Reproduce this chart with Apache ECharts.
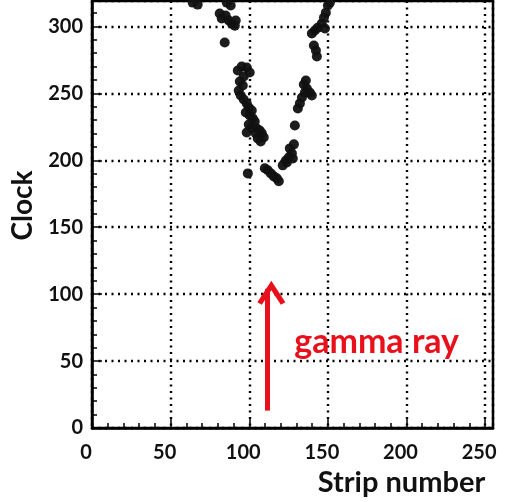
<!DOCTYPE html>
<html>
<head>
<meta charset="utf-8">
<script src="https://cdn.jsdelivr.net/npm/echarts@6/dist/echarts.min.js"></script>
<style>
  html, body { margin: 0; padding: 0; background: #fff; }
  #chart { width: 516px; height: 502px; }
</style>
</head>
<body>
<div id="chart"></div>
<script>
// strip number of each hit
const stripNo = [
  64.0, 67.2, 85.7, 88.2, 81.2, 82.5, 85.0, 87.0, 88.9, 90.8, 91.4, 84.4,
  92.7, 95.2, 98.4, 100.3, 96.5, 94.0, 95.9, 93.3, 94.6, 96.5, 98.4, 99.7,
  101.6, 97.8, 100.3, 102.2, 103.5, 99.7, 101.6, 104.8, 106.7, 108.0, 104.2,
  109.2, 105.4, 98.4, 107.3, 99.1,
  109.9, 111.8, 113.7, 115.6, 117.5, 118.8,
  121.3, 123.3, 125.2, 127.1, 125.8, 128.4, 123.9, 127.7, 129.0,
  130.9, 132.2, 133.5, 135.4, 136.6, 138.5, 139.8, 134.7, 136.0,
  141.1, 142.4, 143.0, 139.8, 141.7, 143.6, 146.1, 147.5, 148.7, 150.0, 151.3, 148.1
];
// clock of each hit
const clockVal = [
  317.8, 316.3, 317.8, 315.6, 309.6, 305.9, 308.1, 304.4, 302.1, 300.6, 304.4, 288.0,
  267.1, 270.1, 269.3, 265.6, 262.6, 258.9, 255.9, 252.1, 248.4, 245.4, 242.5, 239.5,
  237.2, 235.7, 233.5, 231.3, 229.0, 226.8, 224.5, 223.8, 222.3, 220.1, 220.1,
  217.1, 216.3, 220.8, 214.1, 190.2,
  194.0, 192.5, 190.2, 188.0, 186.5, 184.3,
  196.2, 199.9, 202.2, 205.2, 208.9, 211.9, 198.4, 201.4, 226.0,
  238.7, 242.5, 246.9, 250.7, 253.6, 250.7, 248.4, 256.6, 259.6,
  285.7, 282.0, 277.5, 294.7, 296.9, 299.1, 302.1, 306.6, 310.3, 315.6, 317.8, 298.4
];
// annotation: arrow start/end and label position
const arrowFrom = [111.5, 13];
const arrowTo = [111.5, 104];
const labelAt = [181, 64];
const labelText = 'gamma ray';

const chart = echarts.init(document.getElementById('chart'));
const font = 'Lato, "Open Sans", sans-serif';
const dotted = { color: '#000', width: 2.4, type: [2, 4.5] };

chart.setOption({
  animation: false,
  grid: {
    left: 92, right: 23, top: 1, bottom: 73,
    show: true, borderColor: '#000', borderWidth: 2.5, backgroundColor: '#fff'
  },
  xAxis: {
    type: 'value', min: 0, max: 255, interval: 50,
    name: 'Strip number', nameLocation: 'middle', nameGap: 40,
    nameTextStyle: { fontFamily: font, fontWeight: 'bold', fontSize: 29, color: '#111', padding: [0, 0, 0, 218] },
    axisLine: { lineStyle: { color: '#000', width: 2.5 } },
    axisTick: { inside: true, length: 10, lineStyle: { color: '#000', width: 1.5 } },
    minorTick: { show: true, splitNumber: 5, length: 5, lineStyle: { color: '#000', width: 1.5 } },
    axisLabel: {
      showMaxLabel: false, fontFamily: font, fontWeight: 'bold', fontSize: 20, color: '#111',
      margin: 15, padding: [0, 12, 0, 0]
    },
    splitLine: { show: true, lineStyle: dotted }
  },
  yAxis: {
    type: 'value', min: 0, max: 319, interval: 50,
    name: 'Clock', nameLocation: 'middle', nameGap: 52, nameRotate: 90,
    nameTextStyle: { fontFamily: font, fontWeight: 'bold', fontSize: 28, color: '#111', padding: [0, 0, 0, 18] },
    axisLine: { lineStyle: { color: '#000', width: 2.5 } },
    axisTick: { inside: true, length: 10, lineStyle: { color: '#000', width: 1.5 } },
    minorTick: { show: true, splitNumber: 5, length: 5, lineStyle: { color: '#000', width: 1.5 } },
    axisLabel: { showMaxLabel: false, fontFamily: font, fontWeight: 'bold', fontSize: 20, color: '#111', margin: 9 },
    splitLine: { show: true, lineStyle: dotted }
  },
  series: [{
    type: 'scatter',
    data: stripNo.map((x, i) => [x, clockVal[i]]),
    symbolSize: 10,
    itemStyle: { color: '#111', opacity: 0.95 },
    markLine: {
      silent: true,
      symbol: ['none', 'path://M0,10 L5,0 L10,10 L8.4,11.2 L5,4.4 L1.6,11.2 Z'],
      symbolSize: [28, 24],
      symbolOffset: [0, 4],
      label: { show: false },
      lineStyle: { color: '#e8101a', width: 5, type: 'solid' },
      data: [[{ coord: arrowFrom }, { coord: arrowTo }]]
    },
    markPoint: {
      silent: true,
      symbol: 'circle', symbolSize: 0,
      label: {
        show: true, position: 'inside', formatter: labelText,
        fontFamily: font, fontWeight: 'bold', fontSize: 34, color: '#e8101a'
      },
      data: [{ coord: labelAt }]
    }
  }]
});
</script>
</body>
</html>
